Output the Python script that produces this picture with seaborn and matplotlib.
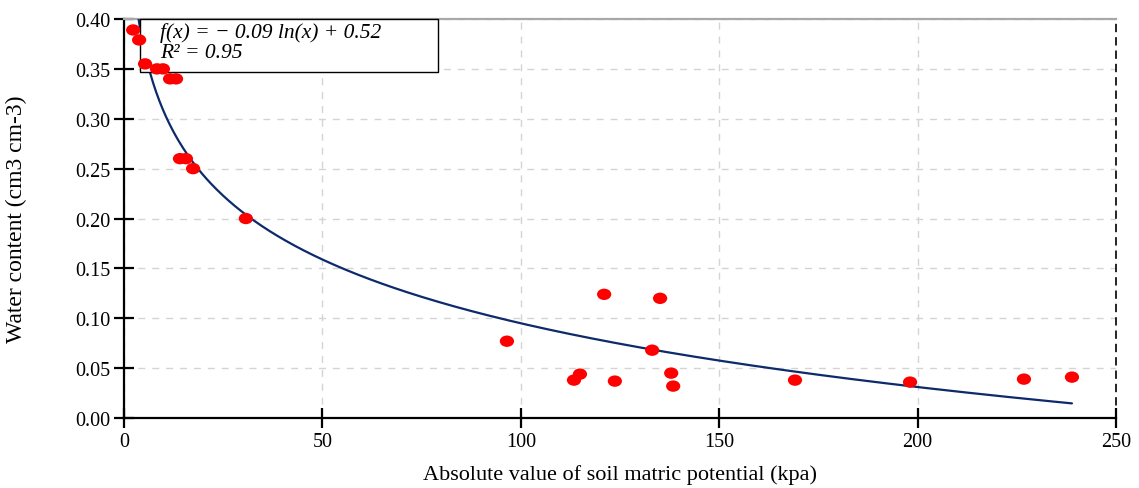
import numpy as np
import pandas as pd
import matplotlib
matplotlib.use("Agg")
import matplotlib.pyplot as plt
from matplotlib.path import Path
from matplotlib.patches import Rectangle
import seaborn as sns

# Measured soil water retention points
potential_kpa = [2.3, 3.8, 5.3, 8.3, 9.8, 11.6, 13.1, 14.1, 15.6, 17.4,
                 30.7, 96.5, 113.4, 114.9, 123.7, 121.0, 135.1, 133.1,
                 137.9, 138.4, 169.1, 198.1, 226.8, 238.9]
water_content = [0.389, 0.379, 0.355, 0.350, 0.350, 0.340, 0.340, 0.260,
                 0.260, 0.250, 0.200, 0.077, 0.038, 0.044, 0.037, 0.124,
                 0.120, 0.068, 0.045, 0.032, 0.038, 0.036, 0.039, 0.041]

x_ticks = [0, 50, 100, 150, 200, 250]
y_ticks = [0.00, 0.05, 0.10, 0.15, 0.20, 0.25, 0.30, 0.35, 0.40]
eq_text = "f(x) = \u2212 0.09 ln(x) + 0.52"
r2_text = "R\u00b2 = 0.95"

df = pd.DataFrame({"psi": potential_kpa, "theta": water_content})

# Logarithmic fit theta = a*ln(psi) + b
a, b = np.polyfit(np.log(df["psi"]), df["theta"], 1)
xs = np.linspace(1.0, max(potential_kpa), 600)
fit_df = pd.DataFrame({"psi": xs, "theta": a * np.log(xs) + b})

sns.set_theme(style="white")
plt.rcParams["font.family"] = ["Liberation Serif", "DejaVu Serif"]
plt.rcParams["text.color"] = "black"
plt.rcParams["axes.labelcolor"] = "black"

fig = plt.figure(figsize=(11.39, 4.89), dpi=100)
ax = fig.add_axes([0.1089, 0.1431, 0.8709, 0.8160])

sns.lineplot(data=fit_df, x="psi", y="theta", ax=ax, color="#0d2a6b",
             linewidth=1.6, zorder=3)

# slightly wide elliptical marker
ell = Path.unit_circle()
ell = Path(ell.vertices * np.array([1.25, 1.0]), ell.codes)
sns.scatterplot(data=df, x="psi", y="theta", ax=ax, marker=ell, s=105,
                color="#ff0000", edgecolor="none", linewidth=0, zorder=5)

ax.set_xlim(0, 250)
ax.set_ylim(0, 0.40)
ax.set_xticks(x_ticks)
ax.set_yticks(y_ticks)
ax.set_xticklabels([str(t) for t in x_ticks])
ax.set_yticklabels([f"{t:.2f}" for t in y_ticks])

ax.grid(True, linestyle=(0, (5, 5)), color="#d4d4d4", linewidth=1.0)
ax.set_axisbelow(True)

for side in ("left", "bottom"):
    ax.spines[side].set_color("black")
    ax.spines[side].set_linewidth(1.6)
ax.spines["top"].set_color("#a8a8a8")
ax.spines["top"].set_linewidth(1.6)
ax.spines["right"].set_color("black")
ax.spines["right"].set_linewidth(1.2)
ax.spines["right"].set_linestyle((0, (4, 4)))

ax.tick_params(axis="y", direction="inout", length=14, width=1.6,
               labelsize=14.5, pad=3, left=True, colors="black")
ax.tick_params(axis="x", direction="inout", length=14, width=1.6,
               labelsize=14.5, pad=3, bottom=True, colors="black")

ax.set_xlabel("Absolute value of soil matric potential (kpa)", fontsize=16,
              color="black")
ax.set_ylabel("Water content (cm3 cm-3)", fontsize=17, color="black")
ax.xaxis.set_label_coords(0.5, -0.115)
ax.yaxis.set_label_coords(-0.098, 0.5)

# Equation box
ax.add_patch(Rectangle((0.016, 0.867), 0.301, 0.133, transform=ax.transAxes,
                       facecolor="white", edgecolor="black", linewidth=1.0,
                       zorder=4, clip_on=False))
ax.text(0.036, 0.967, eq_text, transform=ax.transAxes, fontsize=15.5,
        fontstyle="italic", va="center", ha="left", color="black", zorder=4.5)
ax.text(0.036, 0.917, r2_text, transform=ax.transAxes, fontsize=15.5,
        fontstyle="italic", va="center", ha="left", color="black", zorder=4.5)

fig.savefig("out.png", dpi=100)
